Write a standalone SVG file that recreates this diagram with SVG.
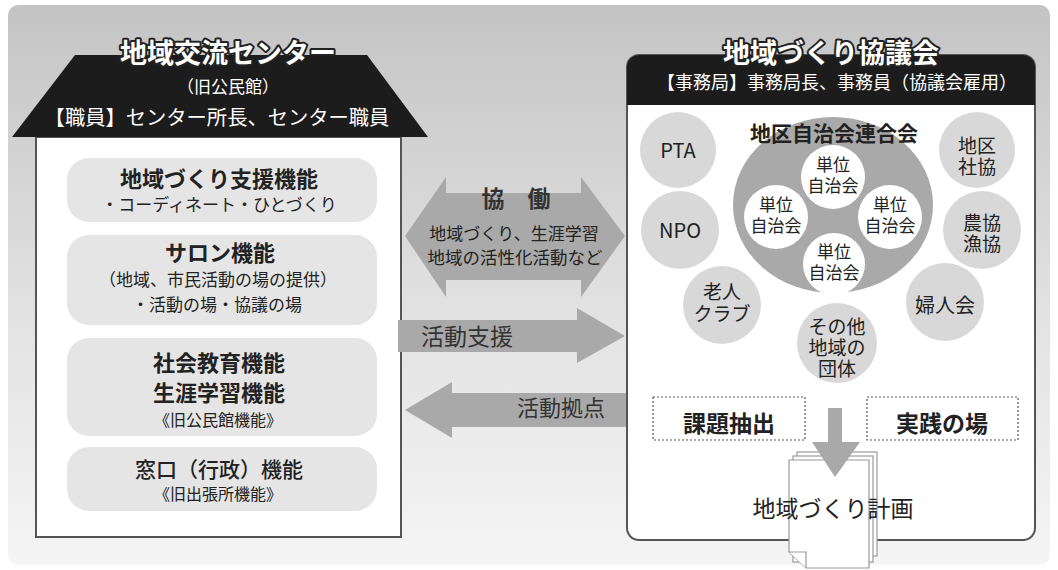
<svg xmlns="http://www.w3.org/2000/svg" width="1058" height="570" viewBox="0 0 1058 570">
<defs>
<linearGradient id="bg" x1="0" y1="0" x2="0" y2="1">
<stop offset="0" stop-color="#c4c4c4"/>
<stop offset="0.55" stop-color="#e2e2e2"/>
<stop offset="1" stop-color="#f5f5f5"/>
</linearGradient>
<style>
text{font-family:"Noto Sans CJK JP","Noto Sans",sans-serif;fill:#222;text-anchor:middle}
.ttl{font-size:27px;font-weight:700;fill:#fff;stroke:#222;stroke-width:4px;paint-order:stroke;stroke-linejoin:round}
.hdr{fill:#fff;font-size:19px}
.fbox{fill:#e5e5e5}
.h1{font-size:22px;font-weight:700}
.s1{font-size:17px}
.s2{font-size:16px}
.arr{fill:#a9a9a9}
.org{fill:#d8d8d8}
.unit{fill:#fff}
.c20{font-size:20px}
.c19{font-size:19px}
.c17{font-size:17px}
.dot{fill:none;stroke:#555;stroke-width:1.2;stroke-dasharray:2 2}
.page{fill:#fff;stroke:#999;stroke-width:1.2}
</style>
</defs>
<rect x="0" y="0" width="1058" height="570" fill="#fff"/>
<rect x="8" y="5" width="1042" height="560" rx="10" fill="url(#bg)"/>

<g id="center">
<rect x="36" y="137" width="365" height="400" fill="#fff" stroke="#555" stroke-width="2"/>
<polygon points="75,55 367,55 428,137 12,137" fill="#1c1c1c"/>
<text class="ttl" x="228" y="63">地域交流センター</text>
<text class="hdr" x="228" y="93" style="font-size:17px">（旧公民館）</text>
<text class="hdr" x="217" y="125" style="font-size:20.3px">【職員】センター所長、センター職員</text>
</g>

<g id="func1">
<rect class="fbox" x="67" y="158" width="310" height="64" rx="22"/>
<text class="h1" x="219" y="187">地域づくり支援機能</text>
<text class="s1" x="219" y="211">・コーディネート・ひとづくり</text>
</g>
<g id="func2">
<rect class="fbox" x="67" y="235" width="310" height="90" rx="22"/>
<text class="h1" x="220" y="261">サロン機能</text>
<text class="s1" x="218" y="286">（地域、市民活動の場の提供）</text>
<text class="s1" x="217" y="311">・活動の場・協議の場</text>
</g>
<g id="func3">
<rect class="fbox" x="67" y="338" width="310" height="98" rx="22"/>
<text class="h1" x="219" y="371">社会教育機能</text>
<text class="h1" x="219" y="401">生涯学習機能</text>
<text class="s2" x="218" y="426">《旧公民館機能》</text>
</g>
<g id="func4">
<rect class="fbox" x="67" y="447" width="310" height="64" rx="22"/>
<text class="h1" x="219" y="477" style="font-weight:500;font-size:21px">窓口（行政）機能</text>
<text class="s2" x="218" y="500">《旧出張所機能》</text>
</g>

<g id="connectors">
<g id="kyodo">
<polygon class="arr" points="405,236 446,177 446,193 581,193 581,177 625,236 581,297 581,280 446,280 446,297"/>
<text x="516" y="207" style="font-size:23px;font-weight:700;fill:#333">協　働</text>
<text x="514" y="240" style="font-size:17px">地域づくり、生涯学習</text>
<text x="515" y="264" style="font-size:17.5px">地域の活性化活動など</text>
</g>
<g id="shien">
<polygon class="arr" points="398,320 577,320 577,308 625,336 577,363 577,352 398,352"/>
<text x="467" y="345" style="font-size:23px;fill:#333">活動支援</text>
</g>
<g id="kyoten">
<polygon class="arr" points="405,410 452,382 452,393 630,393 630,427 452,427 452,438"/>
<text x="561" y="416" style="font-size:22px;fill:#333">活動拠点</text>
</g>
</g>

<g id="council">
<path d="M627,67 a12,12 0 0 1 12,-12 h384 a12,12 0 0 1 12,12 V528 a12,12 0 0 1 -12,12 H639 a12,12 0 0 1 -12,-12 Z" fill="#fff" stroke="#555" stroke-width="2"/>
<path d="M627,67 a12,12 0 0 1 12,-12 h384 a12,12 0 0 1 12,12 V105 H627 Z" fill="#1c1c1c"/>
<text class="ttl" x="831" y="63">地域づくり協議会</text>
<text class="hdr" x="837" y="89" style="font-size:18px">【事務局】事務局長、事務員（協議会雇用）</text>
</g>

<g id="rengokai">
<ellipse cx="833" cy="205" rx="100" ry="88" fill="#a9a9a9"/>
<text x="834" y="141" style="font-size:21px;font-weight:700">地区自治会連合会</text>
</g>
<g id="unit-top">
<circle class="unit" cx="833" cy="177" r="32"/>
<text class="c17" x="833" y="171">単位<tspan x="833" dy="21">自治会</tspan></text>
</g>
<g id="unit-left">
<circle class="unit" cx="776" cy="217" r="32"/>
<text class="c17" x="776" y="211">単位<tspan x="776" dy="21">自治会</tspan></text>
</g>
<g id="unit-right">
<circle class="unit" cx="890" cy="217" r="32"/>
<text class="c17" x="890" y="211">単位<tspan x="890" dy="21">自治会</tspan></text>
</g>
<g id="unit-bottom">
<circle class="unit" cx="834" cy="264" r="31"/>
<text class="c17" x="834" y="258">単位<tspan x="834" dy="21">自治会</tspan></text>
</g>

<g id="pta">
<circle class="org" cx="678" cy="150" r="38"/>
<text class="c20" x="678" y="158">PTA</text>
</g>
<g id="shakyo">
<circle class="org" cx="977" cy="150" r="38"/>
<text class="c19" x="977" y="153">地区<tspan x="977" dy="21">社協</tspan></text>
</g>
<g id="npo">
<circle class="org" cx="680" cy="230" r="39"/>
<text class="c20" x="680" y="238">NPO</text>
</g>
<g id="nokyo">
<circle class="org" cx="982" cy="230" r="39"/>
<text class="c19" x="982" y="230">農協<tspan x="982" dy="21">漁協</tspan></text>
</g>
<g id="rojin">
<circle class="org" cx="722" cy="305" r="39"/>
<text class="c19" x="722" y="299">老人<tspan x="722" dy="22">クラブ</tspan></text>
</g>
<g id="fujin">
<circle class="org" cx="945" cy="302" r="39"/>
<text class="c20" x="945" y="313">婦人会</text>
</g>
<g id="sonota">
<circle class="org" cx="837" cy="343" r="40"/>
<text class="c19" x="837" y="334">その他<tspan x="837" dy="21">地域の</tspan><tspan x="837" dy="21">団体</tspan></text>
</g>

<g id="kadai">
<rect class="dot" x="653" y="397" width="152" height="43"/>
<text x="729" y="432" style="font-size:23px;font-weight:700">課題抽出</text>
</g>
<g id="jissen">
<rect class="dot" x="867" y="397" width="151" height="43"/>
<text x="942" y="432" style="font-size:23px;font-weight:700">実践の場</text>
</g>

<g id="plan">
<rect class="page" x="797" y="452" width="80" height="104"/>
<rect class="page" x="793" y="456" width="80" height="106"/>
<path class="page" d="M789,460 H869 V568 H806 L789,552 Z"/>
<path class="page" d="M789,552 L806,552 L806,568"/>
<polygon class="arr" points="828,408 842,408 842,442 860,442 835,477 812,442 828,442"/>
<text x="833" y="517" style="font-size:23px">地域づくり計画</text>
</g>
</svg>
